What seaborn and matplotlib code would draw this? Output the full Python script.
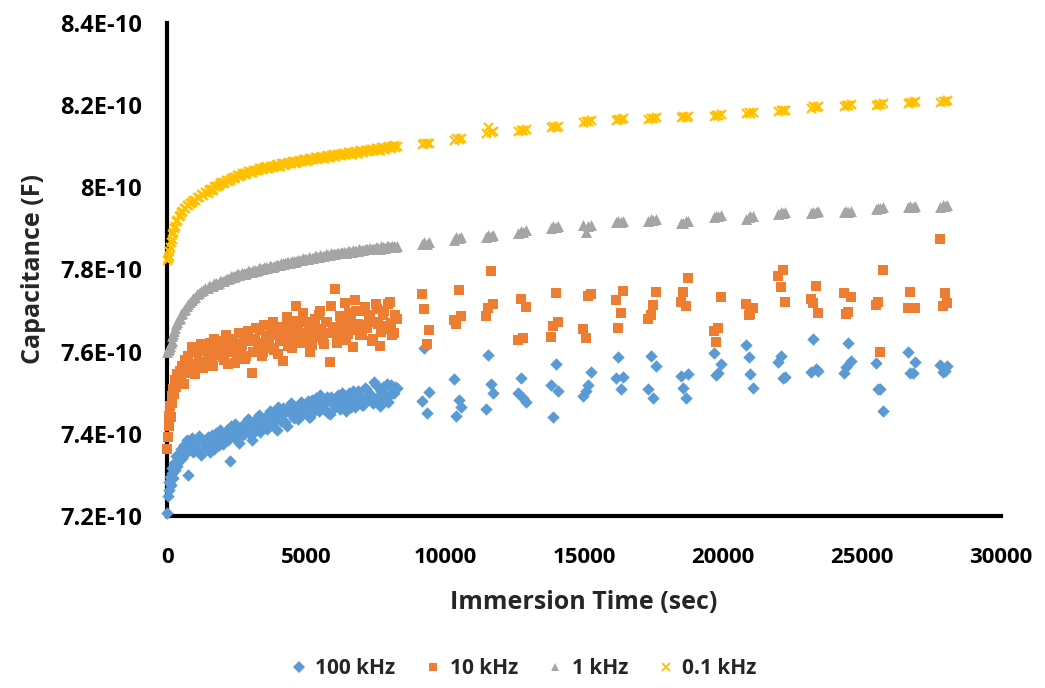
import matplotlib
matplotlib.use("Agg")
import matplotlib.pyplot as plt
from matplotlib.lines import Line2D
import pandas as pd
import seaborn as sns

# ---------------- data (capacitance in units of 1E-10 F) ----------------
dense_t = [0, 25, 50, 75, 100, 130, 160, 190, 220, 250, 290, 330, 370, 410, 450,
           500, 550, 600, 650, 700, 760, 820, 880, 940, 1000, 1070, 1140, 1210, 1280, 1350,
           1450, 1550, 1650, 1750, 1850, 1950, 2050, 2150, 2250, 2350,
           2450, 2550, 2650, 2750, 2850, 2950, 3050, 3150, 3250, 3350,
           3450, 3550, 3650, 3750, 3850, 3950, 4050, 4150, 4250, 4350,
           4450, 4550, 4650, 4750, 4850, 4950, 5050, 5150, 5250, 5350,
           5450, 5550, 5650, 5750, 5850, 5950, 6050, 6150, 6250, 6350,
           6450, 6550, 6650, 6750, 6850, 6950, 7050, 7150, 7250, 7350,
           7450, 7550, 7650, 7750, 7850, 7950, 8050, 8150, 8250]

dense_t2 = [1500, 1600, 1700, 1800, 1900, 2000, 2100, 2200, 2300, 2400,
            2500, 2600, 2700, 2800, 2900, 3000, 3100, 3200, 3300, 3400,
            3500, 3600, 3700, 3800, 3900, 4000, 4100, 4200, 4300, 4400,
            4500, 4600, 4700, 4800, 4900, 5000, 5100, 5200, 5300, 5400,
            5500, 5600, 5700, 5800, 5900, 6000, 6100, 6200, 6300, 6400,
            6500, 6600, 6700, 6800, 6900, 7000, 7100, 7200, 7300, 7400,
            7500, 7600, 7700, 7800, 7900, 8000, 8100, 8200]

sparse_t = [9162, 9255, 9342, 9424, 10310, 10405, 10490, 10576,
            11475, 11558, 11650, 11735, 12637, 12735, 12817, 12910,
            13813, 13896, 13982, 14058, 14975, 15072, 15155, 15241,
            16151, 16234, 16320, 16414, 17313, 17399, 17493, 17579,
            18478, 18572, 18658, 18752, 19660, 19748, 19831, 19922,
            20827, 20917, 20984, 21090, 21989, 22076, 22158, 22241,
            23155, 23248, 23335, 23428, 24340, 24419, 24507, 24594,
            25493, 25576, 25652, 25750, 26650, 26740, 26835, 26912,
            27817, 27910, 27986, 28069]

khz100_dense = [7.207, 7.248, 7.282, 7.264, 7.296, 7.275, 7.305, 7.318, 7.292, 7.330,
                7.312, 7.345, 7.322, 7.350, 7.336, 7.362, 7.340, 7.372, 7.352, 7.384,
                7.300, 7.365, 7.390, 7.355, 7.378, 7.362, 7.395, 7.348, 7.380, 7.368,
                7.392, 7.356, 7.385, 7.402, 7.372, 7.396, 7.380, 7.410, 7.333, 7.398,
                7.425, 7.388, 7.412, 7.400, 7.430, 7.408, 7.385, 7.422, 7.440, 7.405,
                7.432, 7.418, 7.448, 7.425, 7.452, 7.410, 7.445, 7.462, 7.430, 7.455,
                7.475, 7.438, 7.462, 7.445, 7.470, 7.452, 7.480, 7.440, 7.465, 7.488,
                7.455, 7.472, 7.460, 7.490, 7.448, 7.476, 7.465, 7.495, 7.470, 7.482,
                7.455, 7.500, 7.478, 7.466, 7.505, 7.485, 7.470, 7.510, 7.492, 7.478,
                7.525, 7.488, 7.468, 7.515, 7.495, 7.478, 7.520, 7.500, 7.512]
khz100_dense2 = [7.370, 7.398, 7.362, 7.388, 7.410, 7.375, 7.400, 7.385, 7.418, 7.392,
                 7.412, 7.378, 7.420, 7.402, 7.435, 7.398, 7.425, 7.410, 7.445, 7.420,
                 7.438, 7.412, 7.455, 7.428, 7.442, 7.465, 7.432, 7.450, 7.420, 7.468,
                 7.445, 7.460, 7.435, 7.478, 7.450, 7.465, 7.440, 7.482, 7.458, 7.472,
                 7.495, 7.462, 7.478, 7.450, 7.490, 7.470, 7.485, 7.460, 7.500, 7.475,
                 7.490, 7.465, 7.505, 7.480, 7.495, 7.470, 7.512, 7.485, 7.498, 7.475,
                 7.518, 7.490, 7.505, 7.480, 7.522, 7.495, 7.508, 7.515]
khz100_sparse = [7.481, 7.608, 7.450, 7.501, 7.533, 7.444, 7.482, 7.466,
                 7.461, 7.591, 7.521, 7.499, 7.499, 7.537, 7.487, 7.477,
                 7.519, 7.440, 7.569, 7.504, 7.492, 7.504, 7.519, 7.550,
                 7.535, 7.588, 7.508, 7.539, 7.508, 7.590, 7.487, 7.566,
                 7.541, 7.511, 7.487, 7.546, 7.596, 7.543, 7.547, 7.570,
                 7.616, 7.588, 7.545, 7.511, 7.576, 7.590, 7.535, 7.538,
                 7.551, 7.630, 7.557, 7.553, 7.547, 7.562, 7.620, 7.577,
                 7.572, 7.508, 7.509, 7.456, 7.600, 7.549, 7.547, 7.576,
                 7.568, 7.551, 7.553, 7.566]

khz10_dense = [7.362, 7.393, 7.418, 7.444, 7.468, 7.440, 7.492, 7.476, 7.508, 7.497,
               7.532, 7.515, 7.545, 7.524, 7.552, 7.538, 7.566, 7.521, 7.580, 7.548,
               7.590, 7.556, 7.612, 7.570, 7.545, 7.598, 7.575, 7.618, 7.560, 7.602,
               7.585, 7.620, 7.566, 7.608, 7.592, 7.625, 7.580, 7.614, 7.600, 7.632,
               7.572, 7.618, 7.605, 7.640, 7.590, 7.625, 7.548, 7.630, 7.612, 7.652,
               7.598, 7.638, 7.620, 7.660, 7.604, 7.645, 7.628, 7.578, 7.650, 7.614,
               7.668, 7.632, 7.712, 7.640, 7.620, 7.672, 7.645, 7.600, 7.660, 7.635,
               7.690, 7.650, 7.618, 7.672, 7.575, 7.655, 7.752, 7.640, 7.685, 7.662,
               7.628, 7.695, 7.652, 7.726, 7.668, 7.640, 7.700, 7.660, 7.682, 7.625,
               7.672, 7.705, 7.614, 7.690, 7.655, 7.715, 7.670, 7.645, 7.680]
khz10_dense2 = [7.605, 7.575, 7.630, 7.598, 7.612, 7.588, 7.640, 7.570, 7.622, 7.605,
                7.595, 7.645, 7.615, 7.582, 7.650, 7.628, 7.600, 7.658, 7.620, 7.590,
                7.665, 7.632, 7.610, 7.672, 7.640, 7.595, 7.660, 7.625, 7.685, 7.648,
                7.610, 7.675, 7.652, 7.620, 7.695, 7.640, 7.668, 7.615, 7.680, 7.655,
                7.700, 7.628, 7.672, 7.645, 7.710, 7.660, 7.622, 7.688, 7.650, 7.718,
                7.642, 7.675, 7.612, 7.698, 7.665, 7.640, 7.708, 7.658, 7.690, 7.630,
                7.715, 7.668, 7.648, 7.700, 7.662, 7.720, 7.640, 7.690]
khz10_sparse = [7.740, 7.703, 7.619, 7.653, 7.677, 7.667, 7.750, 7.688,
                7.687, 7.706, 7.796, 7.717, 7.628, 7.728, 7.633, 7.708,
                7.636, 7.663, 7.742, 7.672, 7.656, 7.634, 7.736, 7.740,
                7.726, 7.658, 7.693, 7.748, 7.679, 7.689, 7.714, 7.744,
                7.722, 7.745, 7.710, 7.779, 7.650, 7.623, 7.658, 7.733,
                7.715, 7.689, 7.692, 7.706, 7.784, 7.757, 7.799, 7.722,
                7.728, 7.719, 7.760, 7.695, 7.742, 7.692, 7.696, 7.734,
                7.714, 7.721, 7.599, 7.799, 7.706, 7.745, 7.707, 7.707,
                7.874, 7.711, 7.742, 7.718]

khz1_dense = [7.600, 7.605, 7.607, 7.611, 7.613, 7.621, 7.627, 7.637, 7.642, 7.651,
              7.658, 7.667, 7.671, 7.679, 7.683, 7.691, 7.695, 7.702, 7.705, 7.712,
              7.715, 7.722, 7.725, 7.731, 7.734, 7.740, 7.742, 7.748, 7.749, 7.754,
              7.755, 7.760, 7.761, 7.766, 7.767, 7.772, 7.773, 7.778, 7.779, 7.783,
              7.784, 7.788, 7.788, 7.792, 7.792, 7.796, 7.795, 7.799, 7.799, 7.803,
              7.802, 7.806, 7.805, 7.809, 7.809, 7.812, 7.812, 7.816, 7.815, 7.818,
              7.818, 7.821, 7.820, 7.824, 7.823, 7.826, 7.826, 7.829, 7.828, 7.832,
              7.831, 7.834, 7.833, 7.836, 7.835, 7.838, 7.837, 7.840, 7.839, 7.842,
              7.841, 7.844, 7.843, 7.846, 7.845, 7.848, 7.847, 7.850, 7.849, 7.851,
              7.850, 7.853, 7.851, 7.854, 7.853, 7.856, 7.854, 7.858, 7.857]
khz1_dense2 = [7.760, 7.759, 7.766, 7.765, 7.772, 7.771, 7.778, 7.776, 7.783, 7.782,
               7.788, 7.786, 7.792, 7.790, 7.796, 7.794, 7.799, 7.797, 7.803, 7.801,
               7.806, 7.804, 7.809, 7.807, 7.812, 7.810, 7.815, 7.813, 7.818, 7.816,
               7.821, 7.819, 7.824, 7.822, 7.827, 7.825, 7.830, 7.828, 7.832, 7.830,
               7.835, 7.833, 7.837, 7.835, 7.839, 7.837, 7.841, 7.839, 7.843, 7.841,
               7.845, 7.843, 7.847, 7.845, 7.849, 7.847, 7.851, 7.849, 7.853, 7.851,
               7.855, 7.852, 7.856, 7.853, 7.857, 7.854, 7.858, 7.855]
khz1_sparse = [7.862, 7.866, 7.863, 7.867, 7.872, 7.878, 7.876, 7.879,
               7.880, 7.884, 7.882, 7.885, 7.890, 7.893, 7.892, 7.895,
               7.902, 7.905, 7.904, 7.906, 7.908, 7.892, 7.906, 7.909,
               7.915, 7.918, 7.916, 7.919, 7.918, 7.922, 7.920, 7.923,
               7.912, 7.914, 7.917, 7.919, 7.928, 7.931, 7.930, 7.932,
               7.924, 7.927, 7.929, 7.931, 7.936, 7.939, 7.938, 7.940,
               7.938, 7.941, 7.940, 7.942, 7.939, 7.942, 7.941, 7.943,
               7.947, 7.950, 7.949, 7.951, 7.951, 7.954, 7.953, 7.955,
               7.953, 7.957, 7.955, 7.956]

khz01_dense = [7.822, 7.827, 7.833, 7.846, 7.855, 7.868, 7.875, 7.886, 7.892, 7.902,
               7.907, 7.917, 7.921, 7.930, 7.933, 7.941, 7.942, 7.949, 7.950, 7.956,
               7.957, 7.963, 7.964, 7.970, 7.970, 7.976, 7.976, 7.983, 7.982, 7.988,
               7.987, 7.995, 7.996, 8.004, 8.005, 8.012, 8.013, 8.019, 8.018, 8.025,
               8.024, 8.031, 8.030, 8.036, 8.034, 8.040, 8.038, 8.043, 8.042, 8.048,
               8.046, 8.051, 8.048, 8.053, 8.051, 8.056, 8.053, 8.059, 8.056, 8.061,
               8.058, 8.064, 8.061, 8.066, 8.063, 8.069, 8.066, 8.072, 8.069, 8.074,
               8.071, 8.076, 8.072, 8.078, 8.074, 8.080, 8.076, 8.082, 8.078, 8.084,
               8.081, 8.086, 8.082, 8.088, 8.084, 8.090, 8.086, 8.092, 8.088, 8.094,
               8.090, 8.096, 8.092, 8.098, 8.094, 8.100, 8.097, 8.102, 8.100]
khz01_dense2 = [7.993, 7.993, 8.002, 8.002, 8.010, 8.010, 8.017, 8.016, 8.023, 8.022,
                8.029, 8.028, 8.034, 8.033, 8.039, 8.037, 8.043, 8.041, 8.047, 8.045,
                8.050, 8.047, 8.053, 8.050, 8.055, 8.053, 8.058, 8.055, 8.060, 8.058,
                8.063, 8.060, 8.065, 8.063, 8.068, 8.065, 8.071, 8.068, 8.073, 8.070,
                8.075, 8.072, 8.077, 8.074, 8.079, 8.076, 8.081, 8.078, 8.083, 8.080,
                8.085, 8.082, 8.087, 8.084, 8.089, 8.086, 8.091, 8.088, 8.093, 8.090,
                8.095, 8.092, 8.097, 8.094, 8.099, 8.096, 8.101, 8.098]
khz01_sparse = [8.105, 8.108, 8.107, 8.109, 8.116, 8.119, 8.118, 8.120,
                8.133, 8.147, 8.135, 8.136, 8.137, 8.140, 8.139, 8.141,
                8.146, 8.150, 8.148, 8.149, 8.159, 8.162, 8.161, 8.163,
                8.164, 8.167, 8.166, 8.168, 8.166, 8.169, 8.168, 8.170,
                8.170, 8.173, 8.172, 8.174, 8.174, 8.177, 8.176, 8.178,
                8.180, 8.183, 8.182, 8.184, 8.185, 8.188, 8.187, 8.189,
                8.194, 8.197, 8.196, 8.198, 8.198, 8.201, 8.200, 8.202,
                8.201, 8.204, 8.203, 8.205, 8.205, 8.208, 8.207, 8.209,
                8.208, 8.211, 8.210, 8.212]

series_names = ["100 kHz", "10 kHz", "1 kHz", "0.1 kHz"]
y_ticks = [7.2, 7.4, 7.6, 7.8, 8.0, 8.2, 8.4]
y_tick_labels = ["7.2E-10", "7.4E-10", "7.6E-10", "7.8E-10", "8E-10", "8.2E-10", "8.4E-10"]
x_ticks = [0, 5000, 10000, 15000, 20000, 25000, 30000]

# ---------------- assemble ----------------
times = dense_t + dense_t2 + sparse_t
values = {
    "100 kHz": khz100_dense + khz100_dense2 + khz100_sparse,
    "10 kHz": khz10_dense + khz10_dense2 + khz10_sparse,
    "1 kHz": khz1_dense + khz1_dense2 + khz1_sparse,
    "0.1 kHz": khz01_dense + khz01_dense2 + khz01_sparse,
}
frames = []
for name in series_names:
    v = values[name]
    assert len(v) == len(times), (name, len(v), len(times))
    frames.append(pd.DataFrame({"t": times, "C": [c * 1e-10 for c in v], "series": name}))
df = pd.concat(frames, ignore_index=True)

colors = {"100 kHz": "#5B9BD5", "10 kHz": "#ED7D31", "1 kHz": "#A5A5A5", "0.1 kHz": "#FFC000"}
markers = {"100 kHz": "D", "10 kHz": "s", "1 kHz": "^", "0.1 kHz": "x"}
sizes = {"100 kHz": 40, "10 kHz": 52, "1 kHz": 62, "0.1 kHz": 42}

sns.set_theme(style="white")
FONT = ["Open Sans", "DejaVu Sans"]
plt.rcParams["font.family"] = FONT
plt.rcParams["font.weight"] = "bold"

fig = plt.figure(figsize=(10.45, 6.88), dpi=100)
ax = fig.add_axes([0.160, 0.250, 0.798, 0.7166])

for name in series_names:
    sub = df[df["series"] == name]
    kw = dict(linewidth=1.5) if markers[name] == "x" else dict(linewidth=0)
    sns.scatterplot(data=sub, x="t", y="C", color=colors[name], marker=markers[name],
                    s=sizes[name], ax=ax, legend=False, zorder=3, clip_on=False, **kw)

ax.set_xlim(0, 30000)
ax.set_ylim(7.2e-10, 8.4e-10)
ax.set_xticks(x_ticks)
ax.set_xticklabels([str(x) for x in x_ticks], fontweight="bold")
ax.set_yticks([y * 1e-10 for y in y_ticks])
ax.set_yticklabels(y_tick_labels, fontweight="bold")

for side in ["top", "right"]:
    ax.spines[side].set_visible(False)
for side in ["left", "bottom"]:
    ax.spines[side].set_linewidth(3.0)
    ax.spines[side].set_color("black")

ax.tick_params(axis="both", direction="out", length=6, width=3, color="black",
               labelsize=16, labelcolor="black")
ax.tick_params(axis="y", pad=12, labelsize=17)
ax.tick_params(axis="x", pad=16)
ax.set_xlabel("Immersion Time (sec)", fontsize=18, fontweight="bold", labelpad=16)
ax.set_ylabel("Capacitance (F)", fontsize=18, fontweight="bold", labelpad=10)

handles = [Line2D([], [], linestyle="none", marker=markers[n], color=colors[n],
                  markeredgecolor=colors[n], markersize=6,
                  markeredgewidth=1.3 if markers[n] == "x" else 0)
           for n in series_names]
fig.legend(handles, series_names, loc="center", bbox_to_anchor=(0.5, 0.028), ncol=4,
           frameon=False, prop={"size": 15, "weight": "bold"}, handletextpad=0.3,
           columnspacing=1.3, handlelength=1.0)

fig.savefig("out.png", dpi=100)
